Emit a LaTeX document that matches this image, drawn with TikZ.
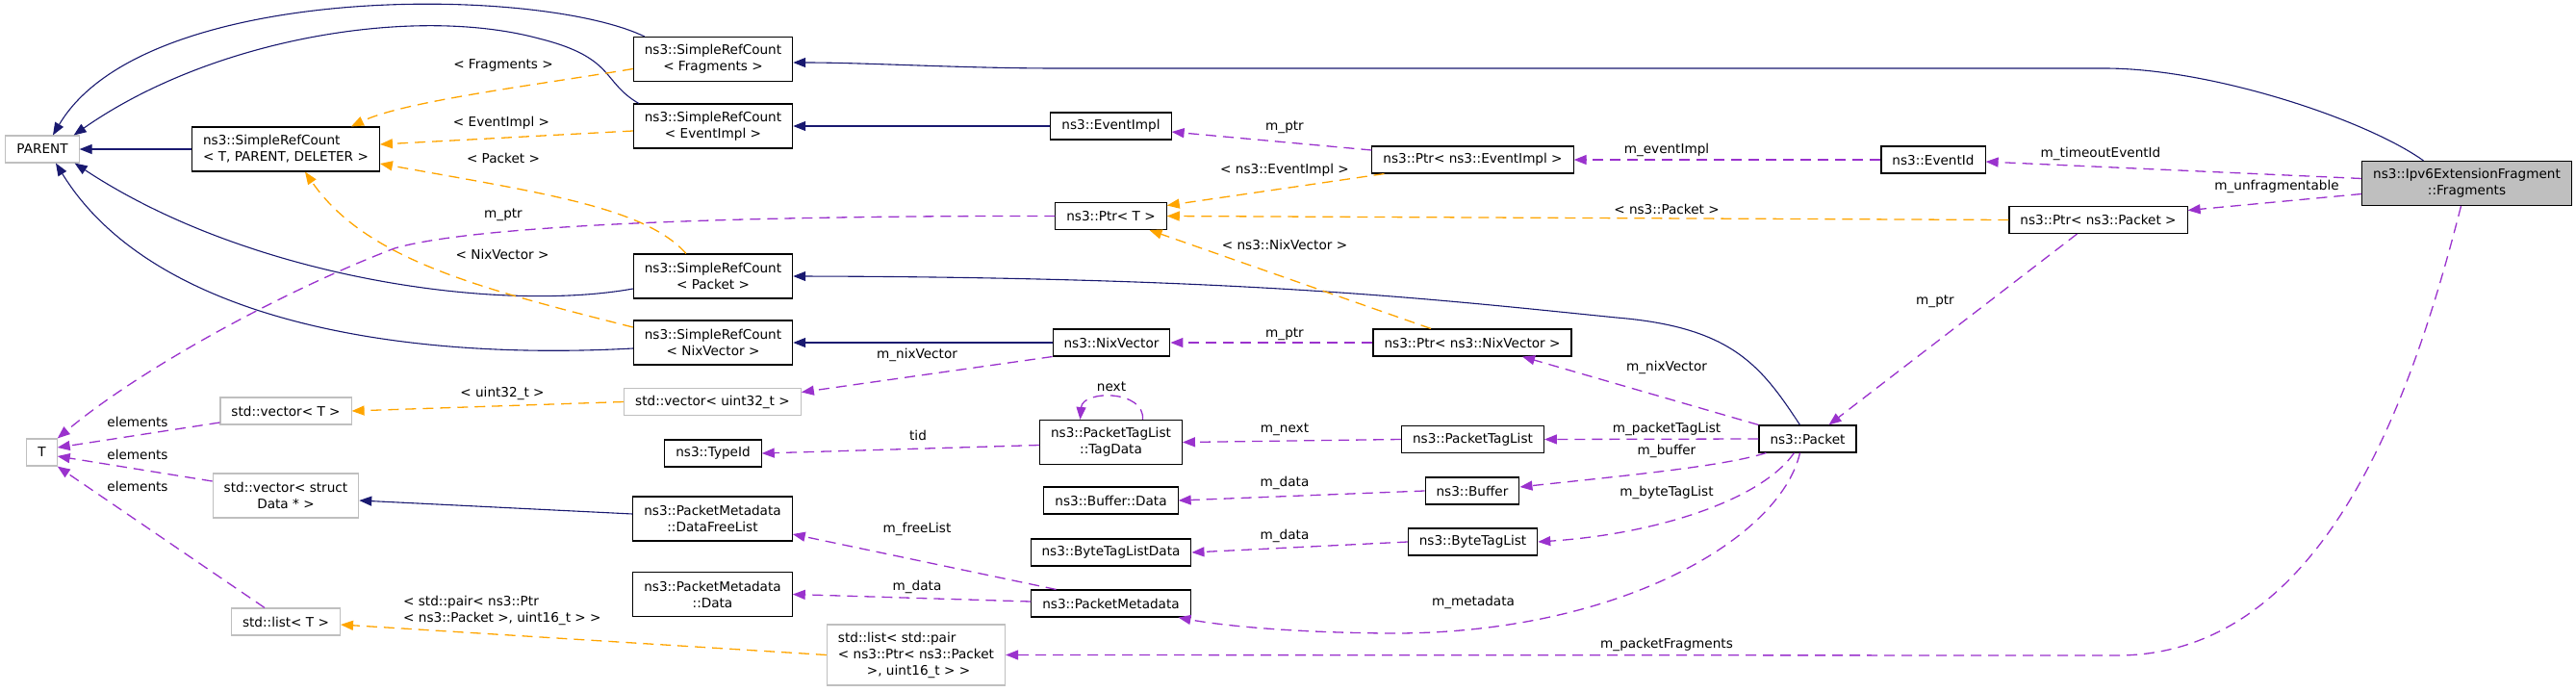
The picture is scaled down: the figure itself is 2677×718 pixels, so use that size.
\documentclass[tikz,border=0pt]{standalone}
\usepackage{fontspec}
\setmainfont{DejaVu Sans}
\usetikzlibrary{arrows.meta}

\definecolor{inhblue}{HTML}{191970}
\definecolor{memberpurple}{HTML}{9A32CD}
\definecolor{tmplorange}{HTML}{FFA500}
\definecolor{extgrey}{HTML}{BFBFBF}

\begin{document}
\begin{tikzpicture}[
    x=1pt, y=-1pt,
    every node/.style={font=\fontsize{13.6pt}{17pt}\selectfont},
    cls/.style={draw=black, fill=white, line width=1.1pt, inner xsep=11.5pt, inner ysep=4pt,
        minimum height=28pt, align=center},
    ext/.style={cls, draw=extgrey},
    two/.style={minimum height=46pt},
    three/.style={minimum height=63pt},
    lbl/.style={inner sep=0pt, align=center},
    inh/.style={draw=inhblue, line width=1.1pt, -{Triangle[length=13pt, width=10pt]}},
    member/.style={draw=memberpurple, line width=1.3pt, dash pattern=on 11pt off 7pt,
        -{Triangle[length=13pt, width=10pt]}},
    tmpl/.style={draw=tmplorange, line width=1.3pt, dash pattern=on 11pt off 7pt,
        -{Triangle[length=13pt, width=10pt]}}
]

\useasboundingbox (0,0) rectangle (2677,718);

% --- Base classes (left column) ---
\node[ext] (parent) at (44,155) {PARENT};
\node[cls, two, align=left] (srcT) at (297,155) {ns3::SimpleRefCount\\< T, PARENT, DELETER >};
\node[ext] (tT) at (43.5,470) {T};
\node[ext] (vecT) at (297,427) {std::vector< T >};
\node[ext, two] (vecData) at (297,515) {std::vector< struct\\Data * >};
\node[ext] (listT) at (297,646) {std::list< T >};

% --- Template instances ---
\node[cls, two] (srcFrag) at (741,61.5) {ns3::SimpleRefCount\\< Fragments >};
\node[cls, two] (srcEvt) at (741,131) {ns3::SimpleRefCount\\< EventImpl >};
\node[cls, two] (srcPkt) at (741,287) {ns3::SimpleRefCount\\< Packet >};
\node[cls, two] (srcNix) at (741,356) {ns3::SimpleRefCount\\< NixVector >};
\node[ext] (vecU32) at (740.5,417.5) {std::vector< uint32\_t >};
\node[cls] (typeId) at (741,471) {ns3::TypeId};
\node[cls, two] (freeList) at (740.5,539) {ns3::PacketMetadata\\::DataFreeList};
\node[cls, two] (pmData) at (740.5,617.5) {ns3::PacketMetadata\\::Data};
\node[ext, three, align=left] (listPair) at (952,680.5) {std::list< std::pair\\< ns3::Ptr< ns3::Packet\\\hspace*{30pt}>, uint16\_t > >};

% --- Middle column ---
\node[cls] (evtImpl) at (1154.5,131) {ns3::EventImpl};
\node[cls] (ptrT) at (1154.5,224.5) {ns3::Ptr< T >};
\node[cls] (nixVec) at (1155,356) {ns3::NixVector};
\node[cls, two] (tagData) at (1154.5,459.5) {ns3::PacketTagList\\::TagData};
\node[cls] (bufData) at (1154.5,520) {ns3::Buffer::Data};
\node[cls] (byteData) at (1154.5,574) {ns3::ByteTagListData};
\node[cls] (pktMeta) at (1154.5,627) {ns3::PacketMetadata};

% --- Right part ---
\node[cls] (ptrEvt) at (1530.5,166) {ns3::Ptr< ns3::EventImpl >};
\node[cls] (ptrNix) at (1530,356) {ns3::Ptr< ns3::NixVector >};
\node[cls] (pktTagList) at (1530.5,456.5) {ns3::PacketTagList};
\node[cls] (buffer) at (1530,510) {ns3::Buffer};
\node[cls] (byteList) at (1530.5,563) {ns3::ByteTagList};
\node[cls] (packet) at (1878.5,456) {ns3::Packet};
\node[cls] (eventId) at (2009,166) {ns3::EventId};
\node[cls] (ptrPkt) at (2180.5,228.5) {ns3::Ptr< ns3::Packet >};
\node[cls, two, fill=extgrey] (frag) at (2563.5,190.5) {ns3::Ipv6ExtensionFragment\\::Fragments};

% --- Inheritance (solid blue) ---
\draw[inh] (srcT.west) -- (parent.east);
\draw[inh] ([xshift=12pt]srcFrag.north west) .. controls (560,-15) and (150,-20) .. ([xshift=11pt]parent.north);
\draw[inh] ([xshift=6pt]srcEvt.north west) .. controls (625,85) and (640,60) .. (560,40)
    .. controls (430,5) and (220,40) .. ([xshift=-6pt]parent.north east);
\draw[inh] ([yshift=-13pt]srcPkt.west) .. controls (520,325) and (260,290) .. ([xshift=-5pt]parent.south east);
\draw[inh] ([yshift=-6pt]srcNix.west) .. controls (420,375) and (160,335) .. ([xshift=14pt]parent.south);
\draw[inh] ([xshift=-45pt]frag.north) .. controls (2460,125) and (2300,71) .. (2187,71) -- (1100,71)
    .. controls (1000,71) and (900,65) .. ([yshift=-3.5pt]srcFrag.east);
\draw[inh] (evtImpl.west) -- (srcEvt.east);
\draw[inh] ([xshift=-8pt]packet.north) .. controls (1830,380) and (1800,340) .. (1680,330)
    .. controls (1500,312) and (1300,288) .. (srcPkt.east);
\draw[inh] (nixVec.west) -- (srcNix.east);
\draw[inh] ([yshift=5pt]freeList.west) -- ([yshift=-5pt]vecData.east);

% --- Template arguments (dashed orange) ---
\draw[tmpl] ([yshift=-10pt]srcFrag.west) .. controls (560,88) and (420,105) .. ([xshift=-30pt]srcT.north east);
\draw[tmpl] ([yshift=-5pt]srcEvt.west) -- ([yshift=5pt]srcT.east);
\draw[tmpl] ([xshift=-28pt]srcPkt.north) .. controls (670,215) and (560,200) .. ([yshift=-15pt]srcT.east);
\draw[tmpl] ([yshift=16pt]srcNix.west) .. controls (500,300) and (380,270) .. ([xshift=20pt]srcT.south);
\draw[tmpl] (vecU32.west) -- (vecT.east);
\draw[tmpl] (listPair.west) -- ([yshift=-3pt]listT.east);
\draw[tmpl] ([xshift=-92pt]ptrEvt.south) -- ([yshift=11pt]ptrT.east);
\draw[tmpl] (ptrPkt.west) -- (ptrT.east);
\draw[tmpl] ([xshift=-43pt]ptrNix.north) -- ([xshift=40pt]ptrT.south);

% --- Members (dashed purple) ---
\draw[member] (ptrT.west) .. controls (800,224) and (500,232) .. (410,258)
    .. controls (300,300) and (150,380) .. (tT.north east);
\draw[member] ([yshift=-12pt]vecT.west) -- ([yshift=5pt]tT.east);
\draw[member] ([yshift=15pt]vecData.west) -- ([yshift=-4pt]tT.east);
\draw[member] ([xshift=-22pt]listT.north) -- (tT.south east);
\draw[member] (nixVec.south west) -- ([yshift=10pt]vecU32.east);
\draw[member] ([yshift=-3pt]tagData.west) -- (typeId.east);
\draw[member] ([xshift=33pt]tagData.north) .. controls (1190,405) and (1125,405) .. ([xshift=-32pt]tagData.north);
\draw[member] (pktTagList.west) -- (tagData.east);
\draw[member] (buffer.west) -- (bufData.east);
\draw[member] (byteList.west) -- (byteData.east);
\draw[member] ([xshift=-57pt]pktMeta.north) -- ([yshift=-16pt]freeList.east);
\draw[member] ([yshift=2pt]pktMeta.west) -- (pmData.east);
\draw[member] ([yshift=10pt]ptrEvt.west) -- ([yshift=-6pt]evtImpl.east);
\draw[member] (eventId.west) -- (ptrEvt.east);
\draw[member] (ptrNix.west) -- (nixVec.east);
\draw[member] (packet.north west) -- ([xshift=52pt]ptrNix.south);
\draw[member] (packet.west) -- (pktTagList.east);
\draw[member] ([xshift=8pt]packet.south west) .. controls (1790,485) and (1680,495) .. ([yshift=4pt]buffer.east);
\draw[member] ([xshift=-14pt]packet.south) .. controls (1830,520) and (1720,555) .. (byteList.east);
\draw[member] ([xshift=-8pt]packet.south) .. controls (1850,560) and (1680,660) .. (1440,658)
    .. controls (1340,657) and (1270,650) .. ([xshift=70pt]pktMeta.south);
\draw[member] ([xshift=-22pt]ptrPkt.south) -- ([xshift=22pt]packet.north);
\draw[member] ([yshift=5pt]frag.west) -- ([yshift=-2pt]eventId.east);
\draw[member] ([yshift=-11pt]frag.west) -- ([yshift=10pt]ptrPkt.east);
\draw[member] ([xshift=-6pt]frag.south) .. controls (2510,400) and (2420,681) .. (2200,681) -- (listPair.east);

% --- Labels ---
\node[lbl] (lFrag) at (523,68) {< Fragments >};
\node[lbl] (lEvt) at (521,128) {< EventImpl >};
\node[lbl] (lPkt) at (523,164) {< Packet >};
\node[lbl] (lPtrT) at (523,223) {m\_ptr};
\node[lbl] (lNix) at (522,264) {< NixVector >};
\node[lbl] (lU32) at (522,409) {< uint32\_t >};
\node[lbl] (lElemA) at (143,438) {elements};
\node[lbl] (lElemB) at (143,472) {elements};
\node[lbl] (lElemC) at (143,505) {elements};
\node[lbl, align=left, anchor=west] (lPair) at (419,634) {< std::pair< ns3::Ptr\\< ns3::Packet >, uint16\_t > >};
\node[lbl] (lPtrEvt) at (1335,132) {m\_ptr};
\node[lbl] (lEvtT) at (1335,177) {< ns3::EventImpl >};
\node[lbl] (lNixT) at (1335,254) {< ns3::NixVector >};
\node[lbl] (lPtrNix) at (1335,347) {m\_ptr};
\node[lbl] (lNixU) at (953,369) {m\_nixVector};
\node[lbl] (lNext) at (1155,402) {next};
\node[lbl] (lTid) at (954,452) {tid};
\node[lbl] (lNextM) at (1335,446) {m\_next};
\node[lbl] (lBufData) at (1335,502) {m\_data};
\node[lbl] (lByteData) at (1335,557) {m\_data};
\node[lbl] (lFree) at (953,550) {m\_freeList};
\node[lbl] (lPmData) at (953,610) {m\_data};
\node[lbl] (lMeta) at (1531,626) {m\_metadata};
\node[lbl] (lFragList) at (1732,670) {m\_packetFragments};
\node[lbl] (lEventImpl) at (1732,156) {m\_eventImpl};
\node[lbl] (lPktT) at (1732,217) {< ns3::Packet >};
\node[lbl] (lNixVec) at (1732,382) {m\_nixVector};
\node[lbl] (lTagList) at (1732,446) {m\_packetTagList};
\node[lbl] (lBuffer) at (1732,469) {m\_buffer};
\node[lbl] (lByteList) at (1732,512) {m\_byteTagList};
\node[lbl] (lPtrPkt) at (2011,313) {m\_ptr};
\node[lbl] (lTimeout) at (2183,160) {m\_timeoutEventId};
\node[lbl] (lUnfrag) at (2366,194) {m\_unfragmentable};

\end{tikzpicture}
\end{document}
